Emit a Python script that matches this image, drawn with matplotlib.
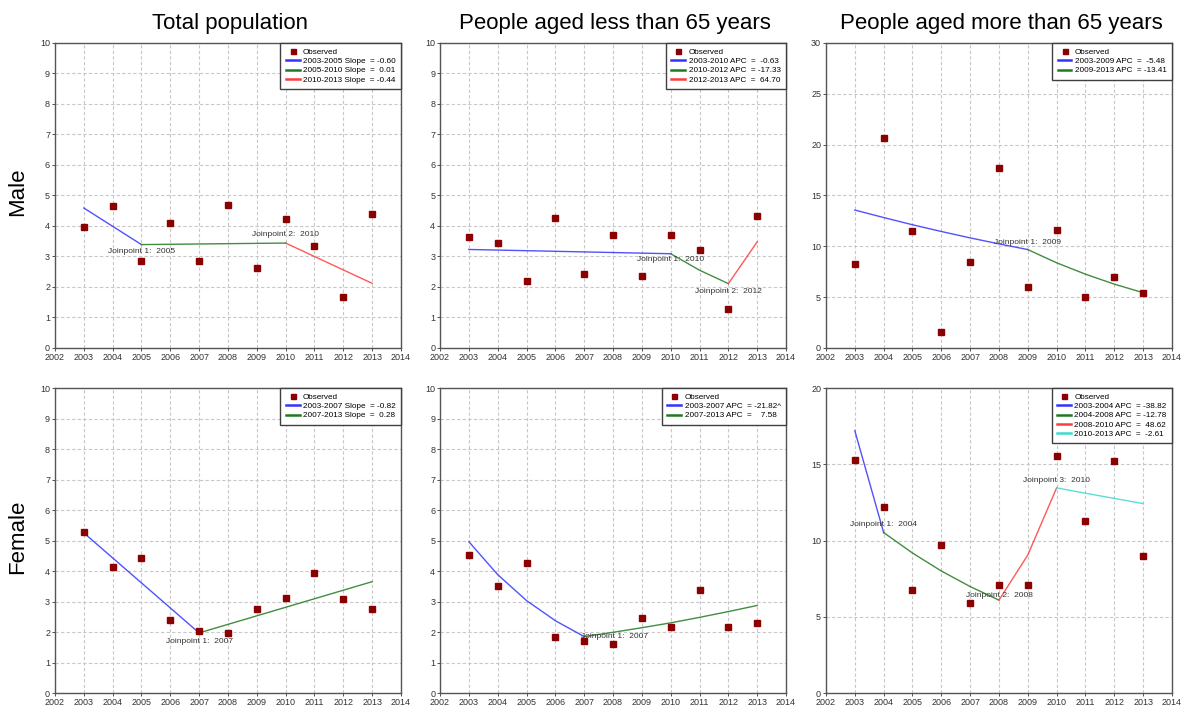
import matplotlib.pyplot as plt

years = list(range(2003, 2014))

# observed rates
obs_total_male = [3.98, 4.65, 2.85, 4.09, 2.86, 4.69, 2.62, 4.24, 3.34, 1.68, 4.38]
obs_young_male = [3.65, 3.44, 2.19, 4.25, 2.43, 3.70, 2.35, 3.69, 3.20, 1.28, 4.32]
obs_old_male = [8.25, 20.64, 11.50, 1.61, 8.45, 17.75, 5.95, 11.57, 5.03, 7.00, 5.39]
obs_total_female = [5.27, 4.12, 4.41, 2.40, 2.02, 1.97, 2.77, 3.10, 3.94, 3.07, 2.77]
obs_young_female = [4.51, 3.50, 4.25, 1.84, 1.72, 1.60, 2.45, 2.17, 3.38, 2.16, 2.31]
obs_old_female = [15.29, 12.22, 6.77, 9.73, 5.89, 7.08, 7.05, 15.53, 11.30, 15.20, 8.96]

# joinpoint model values at each year
fit_total_male = [4.59, 3.99, 3.39, 3.40, 3.41, 3.42, 3.43, 3.44, 3.00, 2.56, 2.12]
fit_young_male = [3.23, 3.21, 3.19, 3.17, 3.15, 3.13, 3.11, 3.09, 2.55, 2.11, 3.48]
fit_old_male = [13.57, 12.83, 12.12, 11.46, 10.83, 10.24, 9.68, 8.38, 7.26, 6.28, 5.44]
fit_total_female = [5.25, 4.43, 3.61, 2.79, 1.97, 2.25, 2.53, 2.81, 3.09, 3.37, 3.65]
fit_young_female = [4.96, 3.88, 3.03, 2.37, 1.85, 1.99, 2.14, 2.30, 2.48, 2.67, 2.87]
fit_old_female = [17.20, 10.52, 9.18, 8.00, 6.98, 6.09, 9.05, 13.45, 13.10, 12.76, 12.42]

# joinpoint years
jp_total_male = [2005, 2010]
jp_young_male = [2010, 2012]
jp_old_male = [2009]
jp_total_female = [2007]
jp_young_female = [2007]
jp_old_female = [2004, 2008, 2010]

seg_total_male = ['2003-2005 Slope  = -0.60', '2005-2010 Slope  =  0.01', '2010-2013 Slope  = -0.44']
seg_young_male = ['2003-2010 APC  =  -0.63', '2010-2012 APC  = -17.33', '2012-2013 APC  =  64.70']
seg_old_male = ['2003-2009 APC  =  -5.48', '2009-2013 APC  = -13.41']
seg_total_female = ['2003-2007 Slope  = -0.82', '2007-2013 Slope  =  0.28']
seg_young_female = ['2003-2007 APC  = -21.82^', '2007-2013 APC  =    7.58']
seg_old_female = ['2003-2004 APC  = -38.82', '2004-2008 APC  = -12.78',
                  '2008-2010 APC  =  48.62', '2010-2013 APC  =  -2.61']

col_titles = ['Total population', 'People aged less than 65 years', 'People aged more than 65 years']
row_titles = ['Male', 'Female']

seg_colors = ['#3333ff', '#1f7a1f', '#ff3b3b', '#40d8d0']
obs_color = '#8b0000'

panels = [
    dict(obs=obs_total_male, fit=fit_total_male, jp=jp_total_male, seg=seg_total_male,
         ymax=10, step=1, jp_y=[3.15, 3.71], jp_dx=[0, 0]),
    dict(obs=obs_young_male, fit=fit_young_male, jp=jp_young_male, seg=seg_young_male,
         ymax=10, step=1, jp_y=[2.89, 1.86], jp_dx=[0, 0]),
    dict(obs=obs_old_male, fit=fit_old_male, jp=jp_old_male, seg=seg_old_male,
         ymax=30, step=5, jp_y=[10.42], jp_dx=[0]),
    dict(obs=obs_total_female, fit=fit_total_female, jp=jp_total_female, seg=seg_total_female,
         ymax=10, step=1, jp_y=[1.68], jp_dx=[0]),
    dict(obs=obs_young_female, fit=fit_young_female, jp=jp_young_female, seg=seg_young_female,
         ymax=10, step=1, jp_y=[1.84], jp_dx=[1.05]),
    dict(obs=obs_old_female, fit=fit_old_female, jp=jp_old_female, seg=seg_old_female,
         ymax=20, step=5, jp_y=[11.06, 6.42, 13.95], jp_dx=[0, 0, 0]),
]

plt.rcParams['font.family'] = ['Liberation Sans', 'DejaVu Sans']

fig = plt.figure(figsize=(11.82, 7.07), dpi=100)

lefts = [0.0465, 0.3723, 0.6988]
bottoms = [0.5078, 0.0198]
w, h = 0.2927, 0.4314

for i, p in enumerate(panels):
    r, c = divmod(i, 3)
    ax = fig.add_axes([lefts[c], bottoms[r], w, h])

    ax.plot(years, p['obs'], 's', color=obs_color, markersize=4.5, label='Observed', zorder=4)

    # split fitted curve into segments at the joinpoints
    bounds = [years[0]] + p['jp'] + [years[-1]]
    for k, lab in enumerate(p['seg']):
        i0 = years.index(bounds[k])
        i1 = years.index(bounds[k + 1])
        ax.plot(years[i0:i1 + 1], p['fit'][i0:i1 + 1], color=seg_colors[k],
                lw=1.0, alpha=0.85, label=lab, zorder=3)

    for n, (yr, ty, dx) in enumerate(zip(p['jp'], p['jp_y'], p['jp_dx'])):
        ax.text(yr + dx, ty, f'Joinpoint {n + 1}:  {yr}', fontsize=6, color='#333333',
                ha='center', va='center', zorder=5)

    ax.set_xlim(2002, 2014)
    ax.set_ylim(0, p['ymax'])
    ax.set_xticks(range(2002, 2015))
    ax.set_yticks(range(0, p['ymax'] + 1, p['step']))
    ax.grid(True, color='#c8c8c8', ls=(0, (3, 2)), lw=0.8)
    ax.set_axisbelow(True)
    ax.tick_params(labelsize=6.5, colors='#333333', length=2, width=0.6, pad=1.5)
    for s in ax.spines.values():
        s.set_color('#555555')
        s.set_linewidth(1.0)

    leg = ax.legend(loc='upper right', fontsize=5.9, frameon=True, fancybox=False,
                    edgecolor='#404040', framealpha=1, borderaxespad=0,
                    handlelength=1.7, handletextpad=0.4, labelspacing=0.18,
                    borderpad=0.65, markerscale=0.8)
    leg.get_frame().set_linewidth(1.0)
    for ln in leg.get_lines()[1:]:
        ln.set_linewidth(1.8)
        ln.set_alpha(1)

    if r == 0:
        fig.text(lefts[c] + w / 2 + 0.002, 0.967, col_titles[c], fontsize=16, ha='center', va='center')

for r, name in enumerate(row_titles):
    fig.text(0.0152, bottoms[r] + h / 2 + 0.005, name, fontsize=16, rotation=90,
             ha='center', va='center')

fig.savefig('out.png', dpi=100)
